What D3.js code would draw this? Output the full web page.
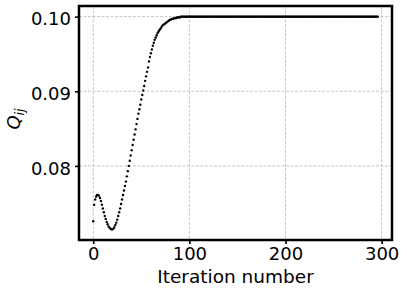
<!DOCTYPE html>
<html>
<head>
<meta charset="utf-8">
<script src="https://d3js.org/d3.v7.min.js"></script>
<style>
  body { margin: 0; background: #fff; }
  svg { display: block; font-family: "DejaVu Sans", sans-serif; }
</style>
</head>
<body>
<svg id="svg" width="407" height="293"></svg>
<script>

// Q_ij, iterations 0..90 (transient part)
var rampValues = [
  0.0726, 0.0748, 0.0755, 0.0759, 0.0761, 0.0761, 0.0760, 0.0757, 0.0753, 0.0748,
  0.0743, 0.0738, 0.0733, 0.0729, 0.0725, 0.0722, 0.0719, 0.0717, 0.0716, 0.0715,
  0.0715, 0.0716, 0.0718, 0.0721, 0.0724, 0.0728, 0.0733, 0.0738, 0.0743, 0.0749,
  0.0755, 0.0761, 0.0767, 0.0773, 0.0779, 0.0786, 0.0793, 0.0800, 0.0807, 0.0814,
  0.0821, 0.0828, 0.0835, 0.0842, 0.0849, 0.0856, 0.0863, 0.0870, 0.0876, 0.0882,
  0.0889, 0.0895, 0.0901, 0.0907, 0.0914, 0.0920, 0.0926, 0.0932, 0.0940, 0.0946,
  0.0951, 0.0956, 0.0961, 0.0965, 0.0969, 0.0972, 0.0975, 0.0978, 0.0980, 0.0982,
  0.0984, 0.0986, 0.0988, 0.0989, 0.0990, 0.0991, 0.0992, 0.0993, 0.0994, 0.0995,
  0.0996, 0.0996, 0.0997, 0.0997, 0.0998, 0.0998, 0.0998, 0.0999, 0.0999, 0.0999,
  0.0999
];

// iterations 91..296, settled value
var plateauValues = [
  0.1, 0.1, 0.1, 0.1, 0.1, 0.1, 0.1, 0.1, 0.1, 0.1, 0.1, 0.1, 0.1, 0.1, 0.1, 0.1, 0.1, 0.1, 0.1, 0.1,
  0.1, 0.1, 0.1, 0.1, 0.1, 0.1, 0.1, 0.1, 0.1, 0.1, 0.1, 0.1, 0.1, 0.1, 0.1, 0.1, 0.1, 0.1, 0.1, 0.1,
  0.1, 0.1, 0.1, 0.1, 0.1, 0.1, 0.1, 0.1, 0.1, 0.1, 0.1, 0.1, 0.1, 0.1, 0.1, 0.1, 0.1, 0.1, 0.1, 0.1,
  0.1, 0.1, 0.1, 0.1, 0.1, 0.1, 0.1, 0.1, 0.1, 0.1, 0.1, 0.1, 0.1, 0.1, 0.1, 0.1, 0.1, 0.1, 0.1, 0.1,
  0.1, 0.1, 0.1, 0.1, 0.1, 0.1, 0.1, 0.1, 0.1, 0.1, 0.1, 0.1, 0.1, 0.1, 0.1, 0.1, 0.1, 0.1, 0.1, 0.1,
  0.1, 0.1, 0.1, 0.1, 0.1, 0.1, 0.1, 0.1, 0.1, 0.1, 0.1, 0.1, 0.1, 0.1, 0.1, 0.1, 0.1, 0.1, 0.1, 0.1,
  0.1, 0.1, 0.1, 0.1, 0.1, 0.1, 0.1, 0.1, 0.1, 0.1, 0.1, 0.1, 0.1, 0.1, 0.1, 0.1, 0.1, 0.1, 0.1, 0.1,
  0.1, 0.1, 0.1, 0.1, 0.1, 0.1, 0.1, 0.1, 0.1, 0.1, 0.1, 0.1, 0.1, 0.1, 0.1, 0.1, 0.1, 0.1, 0.1, 0.1,
  0.1, 0.1, 0.1, 0.1, 0.1, 0.1, 0.1, 0.1, 0.1, 0.1, 0.1, 0.1, 0.1, 0.1, 0.1, 0.1, 0.1, 0.1, 0.1, 0.1,
  0.1, 0.1, 0.1, 0.1, 0.1, 0.1, 0.1, 0.1, 0.1, 0.1, 0.1, 0.1, 0.1, 0.1, 0.1, 0.1, 0.1, 0.1, 0.1, 0.1,
  0.1, 0.1, 0.1, 0.1, 0.1, 0.1
];

var xTicks = [0, 100, 200, 300];
var yTicks = [0.08, 0.09, 0.10];
var xLabel = "Iteration number";

var values = rampValues.concat(plateauValues);
var points = values.map(function (v, i) { return { it: i, q: v }; });

var svg = d3.select("#svg");
var plotL = 79, plotR = 392, plotT = 6, plotB = 240;

// matplotlib style 5% margins
var xExt = d3.extent(points, function (d) { return d.it; });
var yExt = d3.extent(points, function (d) { return d.q; });
var xPad = (xExt[1] - xExt[0]) * 0.05, yPad = (yExt[1] - yExt[0]) * 0.05;

var x = d3.scaleLinear().domain([xExt[0] - xPad, xExt[1] + xPad]).range([plotL, plotR]);
var y = d3.scaleLinear().domain([yExt[0] - yPad, yExt[1] + yPad]).range([plotB, plotT]);

// grid
var grid = svg.append("g").attr("stroke", "#b8b8b8").attr("stroke-width", 0.8)
  .attr("stroke-dasharray", "3,1.5");
grid.selectAll(".gx").data(xTicks).enter().append("line")
  .attr("x1", function (d) { return x(d); }).attr("x2", function (d) { return x(d); })
  .attr("y1", plotT).attr("y2", plotB);
grid.selectAll(".gy").data(yTicks).enter().append("line")
  .attr("y1", function (d) { return y(d); }).attr("y2", function (d) { return y(d); })
  .attr("x1", plotL).attr("x2", plotR);

// dots
svg.append("g").selectAll("circle").data(points).enter().append("circle")
  .attr("cx", function (d) { return x(d.it); })
  .attr("cy", function (d) { return y(d.q); })
  .attr("r", 1.2)
  .attr("fill", "#000");

// axes
var xAxis = d3.axisBottom(x).tickValues(xTicks).tickSize(4).tickPadding(3)
  .tickFormat(d3.format("d"));
var gx = svg.append("g").attr("transform", "translate(0," + plotB + ")").call(xAxis);
gx.select(".domain").remove();
gx.selectAll("line").attr("stroke-width", 1.6);
gx.selectAll("text").attr("font-size", 18).attr("font-family", "DejaVu Sans").attr("fill", "#000");

var yAxis = d3.axisLeft(y).tickValues(yTicks).tickSize(4).tickPadding(4)
  .tickFormat(d3.format(".2f"));
var gy = svg.append("g").attr("transform", "translate(" + plotL + ",0)").call(yAxis);
gy.select(".domain").remove();
gy.selectAll("line").attr("stroke-width", 1.6);
gy.selectAll("text").attr("font-size", 18).attr("font-family", "DejaVu Sans").attr("fill", "#000")
  .attr("dy", "0.45em");

// frame
svg.append("rect")
  .attr("x", plotL).attr("y", plotT)
  .attr("width", plotR - plotL).attr("height", plotB - plotT)
  .attr("fill", "none").attr("stroke", "#000").attr("stroke-width", 2.5);

// labels
svg.append("text")
  .attr("x", (plotL + plotR) / 2).attr("y", 283)
  .attr("text-anchor", "middle").attr("font-size", 18.5)
  .text(xLabel);

var yl = svg.append("text")
  .attr("transform", "translate(20,119) rotate(-90)")
  .attr("text-anchor", "middle").attr("font-size", 18);
yl.append("tspan").attr("font-style", "italic").text("Q");
yl.append("tspan").attr("font-style", "italic").attr("font-size", 12.5)
  .attr("dy", 4).text("ij");

</script>
</body>
</html>
